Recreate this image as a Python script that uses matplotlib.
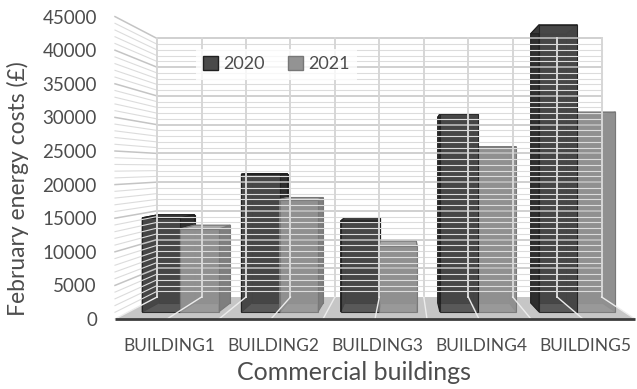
import numpy as np
import matplotlib.pyplot as plt
from matplotlib.patches import Polygon, Patch

plt.rcParams["font.family"] = ["Lato", "DejaVu Sans"]

buildings = ["BUILDING1", "BUILDING2", "BUILDING3", "BUILDING4", "BUILDING5"]
years = ["2020", "2021"]
costs_2020 = [14700, 21500, 14200, 30900, 44800]
costs_2021 = [12950, 17550, 10300, 25800, 31200]
value_ticks = np.arange(0, 45001, 5000)

# 3-D look: the axes is the front plane, depth z runs 0 (front) .. 1 (back wall)
XLIM = (-0.525, 4.475)
YMAX = 45000
VANISH = (2.263, 22545)   # point everything shrinks toward with depth
SHRINK = 0.145            # back wall is drawn at scale 1 - SHRINK
BAR_Z = (0.317, 0.731)
BAR_W = 0.385

face_colors = {
    "2020": dict(front="#4a4a4a", side="#2e2e2e", top="#3a3a3a", edge="#202020"),
    "2021": dict(front="#939393", side="#7e7e7e", top="#a6a6a6", edge="#777777"),
}
text_color = "#4d4d4d"


def proj(c, v, z):
    s = 1 - SHRINK * z
    return (VANISH[0] + s * (c - VANISH[0]), VANISH[1] + s * (v - VANISH[1]))


def quad(ax, pts, **kw):
    ax.add_patch(Polygon([proj(*p) for p in pts], closed=True, clip_on=False, **kw))


def draw_bar(ax, x0, x1, h, style):
    z0, z1 = BAR_Z
    edge = dict(edgecolor=style["edge"], linewidth=0.8, joinstyle="miter")
    # back, sides and top first so the front face sits over the hidden ones
    quad(ax, [(x0, 0, z1), (x1, 0, z1), (x1, h, z1), (x0, h, z1)], facecolor=style["side"], **edge)
    quad(ax, [(x0, 0, z0), (x0, 0, z1), (x0, h, z1), (x0, h, z0)], facecolor=style["side"], **edge)
    quad(ax, [(x1, 0, z0), (x1, 0, z1), (x1, h, z1), (x1, h, z0)], facecolor=style["side"], **edge)
    quad(ax, [(x0, h, z0), (x1, h, z0), (x1, h, z1), (x0, h, z1)], facecolor=style["top"], **edge)
    quad(ax, [(x0, 0, z0), (x1, 0, z0), (x1, h, z0), (x0, h, z0)],
         facecolor=style["front"], alpha=0.88, **edge)


fig = plt.figure(figsize=(6.37, 3.89), dpi=100)
W, H = 637, 389
ax = fig.add_axes([115 / W, 1 - 319 / H, 520 / W, (319 - 16.6) / H])
ax.set_xlim(*XLIM)
ax.set_ylim(0, YMAX)
for sp in ax.spines.values():
    sp.set_visible(False)
ax.patch.set_visible(False)

x0, x1 = XLIM
# walls and floor
quad(ax, [(x0, 0, 1), (x1, 0, 1), (x1, YMAX, 1), (x0, YMAX, 1)], facecolor="white", edgecolor="none")
quad(ax, [(x0, 0, 0), (x0, 0, 1), (x0, YMAX, 1), (x0, YMAX, 0)], facecolor="white", edgecolor="none")
quad(ax, [(x0, 0, 0), (x1, 0, 0), (x1, 0, 1), (x0, 0, 1)], facecolor="#c6c6c6", edgecolor="none")

# value gridlines on back and side walls
for v in np.arange(1000, YMAX + 1, 1000):
    major = v % 5000 == 0
    col = "#c4c4c4" if major else "#dcdcdc"
    lw = 1.1 if major else 0.8
    a, b = proj(x0, v, 1), proj(x1, v, 1)
    ax.plot([a[0], b[0]], [a[1], b[1]], color=col, lw=lw, clip_on=False)
    f = proj(x0, v, 0)
    ax.plot([f[0], a[0]], [f[1], a[1]], color=col, lw=lw, clip_on=False)

# category gridlines on back wall and floor
for c in np.arange(x0, x1 + 0.01, 0.5):
    bot, top = proj(c, 0, 1), proj(c, YMAX, 1)
    ax.plot([bot[0], top[0]], [bot[1], top[1]], color="#d6d6d6", lw=1.4, clip_on=False)
    fr = proj(c, 0, 0)
    ax.plot([fr[0], bot[0]], [fr[1], bot[1]], color="#ececec", lw=1.0, clip_on=False)

a, b = proj(x0, 0, 0), proj(x1, 0, 0)
ax.plot([a[0], b[0]], [a[1], b[1]], color="#3c3c3c", lw=2.0, clip_on=False, solid_capstyle="butt")

# bars, painted from the outside in so nearer side faces end up on top
bars = []
for i in range(len(buildings)):
    bars.append((i - BAR_W, i, costs_2020[i], face_colors["2020"]))
    bars.append((i, i + BAR_W, costs_2021[i], face_colors["2021"]))
bars.sort(key=lambda b: -abs((b[0] + b[1]) / 2 - VANISH[0]))
for bx0, bx1, h, style in bars:
    draw_bar(ax, bx0, bx1, h, style)

ax.set_yticks(value_ticks)
ax.set_yticklabels([str(v) for v in value_ticks])
ax.set_xticks(range(len(buildings)))
ax.set_xticklabels(buildings)
ax.tick_params(axis="y", length=0, pad=13, labelsize=13.5, labelcolor=text_color)
ax.tick_params(axis="x", length=0, pad=14, labelsize=12.5, labelcolor=text_color)

fig.text(18 / W, 1 - 189 / H, "February energy costs (£)", rotation=90,
         ha="center", va="center", fontsize=16.5, color=text_color)
fig.text(354 / W, 1 - 373 / H, "Commercial buildings",
         ha="center", va="center", fontsize=18, color=text_color)

handles = [Patch(facecolor=face_colors[y]["front"], edgecolor=face_colors[y]["edge"]) for y in years]
leg = fig.legend(handles, years, loc="upper left", bbox_to_anchor=(187 / W, 1 - 40 / H),
                 ncol=2, frameon=True, fontsize=13, handlelength=0.8, handleheight=0.8,
                 handletextpad=0.3, columnspacing=1.3, borderpad=0.4, labelcolor=text_color)
leg.get_frame().set_facecolor("white")
leg.get_frame().set_edgecolor("none")
leg.get_frame().set_boxstyle("square", pad=0.0)

fig.savefig("out.png", dpi=100)
